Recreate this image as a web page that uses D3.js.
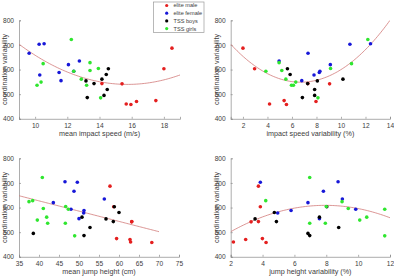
<!DOCTYPE html>
<html>
<head>
<meta charset="utf-8">
<script src="https://cdn.jsdelivr.net/npm/d3@7"></script>
<style>
  body { margin: 0; background: #fff; }
  svg { display: block; font-family: "Liberation Sans", Arial, sans-serif; }
</style>
</head>
<body>
<div id="chart"></div>
<script>
// coordination variability per athlete, with the four x measures in matching order
const groups = ['elite male', 'elite female', 'TSS boys', 'TSS girls'];
const groupColors = ['#e41f1f', '#1717d8', '#000000', '#2fe62f'];

const maleCoord     = [687, 603, 542, 543, 460, 458, 470, 474];
const maleSpeed     = [18.5, 18.0, 15.4, 14.15, 15.66, 15.95, 16.3, 17.5];
const maleSpeedVar  = [2.0, 2.95, 9.07, 7.3, 4.17, 5.55, 7.96, 5.36];
const maleJump      = [57.75, 58.67, 63.17, 63.2, 62.9, 68.2, 62.75, 59.4];
const maleJumpVar   = [3.74, 3.86, 3.28, 3.74, 2.17, 4.22, 2.94, 3.99];

const femaleCoord    = [666, 703, 705, 578, 588, 555, 620, 635, 593];
const femaleSpeed    = [9.63, 10.25, 10.56, 10.29, 11.49, 11.61, 12.07, 12.75, 12.4];
const femaleSpeedVar = [7.31, 10.73, 12.41, 7.8, 8.23, 6.8, 9.13, 4.95, 8.28];
const femaleJump     = [48.75, 49.58, 46.5, 51.17, 51.25, 50.0, 43.58, 56.33, 48.0];
const femaleJumpVar  = [7.82, 3.86, 8.74, 4.95, 5.79, 7.57, 6.85, 9.01, 9.85];

const boysCoord    = [554, 543, 561, 580, 603, 519, 486, 495];
const boysSpeed    = [13.16, 13.66, 14.15, 14.42, 14.55, 14.48, 13.24, 14.28];
const boysSpeedVar = [8.07, 7.28, 10.16, 5.85, 5.63, 7.85, 6.85, 7.85];
const boysJump     = [56.75, 58.58, 50.75, 60.0, 58.83, 52.75, 51.25, 38.58];
const boysJumpVar  = [3.53, 4.87, 7.57, 4.74, 8.03, 8.78, 6.96, 6.85];

const girlsCoord    = [722, 624, 536, 549, 593, 561, 536, 628, 596, 604, 485];
const girlsSpeed    = [12.25, 10.5, 10.12, 10.37, 12.4, 12.87, 13.2, 13.41, 13.41, 13.93, 14.07];
const girlsSpeedVar = [12.19, 10.86, 5.96, 6.31, 3.87, 5.5, 6.12, 4.95, 5.17, 9.15, 8.12];
const girlsJump     = [40.83, 37.5, 42.17, 39.58, 47.33, 41.92, 46.58, 38.42, 41.08, 46.67, 48.92];
const girlsJumpVar  = [6.96, 8.99, 6.96, 10.1, 11.67, 10.54, 7.94, 4.2, 9.38, 8.0, 11.67];

// trend line coefficients [c0, c1, c2]
const speedFit    = [1430.4, -113.19, 3.596];
const speedVarFit = [761.8, -63.53, 4.733];
const jumpFit     = [794.0, -4.171, 0];
const jumpVarFit  = [417.6, 48.26, -3.043];

const yTicks = [400, 500, 600, 700, 800];

const coords = [maleCoord, femaleCoord, boysCoord, girlsCoord];

const panels = [
    { xs: [maleSpeed, femaleSpeed, boysSpeed, girlsSpeed], domain: [9, 19], ticks: [10, 12, 14, 16, 18],
      fit: speedFit, fitRange: [9, 19], title: 'mean impact speed (m/s)', left: 19, top: 20.3, width: 161 },
    { xs: [maleSpeedVar, femaleSpeedVar, boysSpeedVar, girlsSpeedVar], domain: [1, 14], ticks: [2, 4, 6, 8, 10, 12, 14],
      fit: speedVarFit, fitRange: [1, 14], title: 'impact speed variability (%)', left: 230.7, top: 20.3, width: 159.3 },
    { xs: [maleJump, femaleJump, boysJump, girlsJump], domain: [35, 75], ticks: [35, 40, 45, 50, 55, 60, 65, 70, 75],
      fit: jumpFit, fitRange: [35, 70], title: 'mean jump height (cm)', left: 19, top: 158.3, width: 160 },
    { xs: [maleJumpVar, femaleJumpVar, boysJumpVar, girlsJumpVar], domain: [2, 12], ticks: [2, 4, 6, 8, 10, 12],
      fit: jumpVarFit, fitRange: [2, 12], title: 'jump height variability (%)', left: 230.7, top: 158.3, width: 159.3 }
];

const W = 394, H = 277, plotH = 98.5;
const axisColor = '#8a8a8a', textColor = '#3c3c3c', fitColor = '#d27a78';

const svg = d3.select('#chart').append('svg')
    .attr('width', W)
    .attr('height', H);

panels.forEach((p, pi) => {
    const x = d3.scaleLinear().domain(p.domain).range([0, p.width]),
        y = d3.scaleLinear().domain([400, 800]).range([plotH, 0]);

    const g = svg.append('g').attr('transform', `translate(${p.left},${p.top})`);

    g.append('defs').append('clipPath')
        .attr('id', 'clip' + pi)
        .append('rect')
        .attr('width', p.width)
        .attr('height', plotH);

    // axes, ticks inside like the original
    const xAxis = g.append('g')
        .attr('transform', `translate(0,${plotH})`)
        .call(d3.axisBottom(x).tickValues(p.ticks).tickSize(-2).tickPadding(5));
    const yAxis = g.append('g')
        .call(d3.axisLeft(y).tickValues(yTicks).tickSize(-2).tickPadding(5));

    [xAxis, yAxis].forEach(a => {
        a.select('.domain').attr('stroke', axisColor).attr('stroke-width', 0.7);
        a.selectAll('.tick line').attr('stroke', axisColor).attr('stroke-width', 0.7);
        a.selectAll('.tick text').attr('fill', textColor).style('font-size', '6.6px');
    });

    g.append('text')
        .attr('x', p.width / 2)
        .attr('y', plotH + 17)
        .attr('text-anchor', 'middle')
        .attr('fill', textColor)
        .style('font-size', '7.2px')
        .text(p.title);

    g.append('text')
        .attr('transform', `translate(-12.2,${plotH / 2}) rotate(-90)`)
        .attr('text-anchor', 'middle')
        .attr('fill', textColor)
        .style('font-size', '7.2px')
        .text('coordination variability');

    // trend line
    const fitY = v => p.fit[0] + p.fit[1] * v + p.fit[2] * v * v;
    const line = d3.line().x(d => x(d)).y(d => y(fitY(d)));
    const samples = d3.range(0, 101).map(i => p.fitRange[0] + (p.fitRange[1] - p.fitRange[0]) * i / 100);

    g.append('path')
        .datum(samples)
        .attr('clip-path', `url(#clip${pi})`)
        .attr('fill', 'none')
        .attr('stroke', fitColor)
        .attr('stroke-width', 0.8)
        .attr('d', line);

    p.xs.forEach((xs, gi) => {
        g.append('g')
            .attr('fill', groupColors[gi])
            .selectAll('circle')
            .data(xs.map((v, i) => [v, coords[gi][i]]))
            .join('circle')
            .attr('cx', d => x(d[0]))
            .attr('cy', d => y(d[1]))
            .attr('r', 1.8);
    });
});

// legend
const legend = svg.append('g').attr('transform', 'translate(153.5,2)');
legend.append('rect')
    .attr('width', 50.5)
    .attr('height', 30.5)
    .attr('fill', '#fff')
    .attr('stroke', '#9a9a9a')
    .attr('stroke-width', 0.7);

legend.selectAll('g')
    .data(groups)
    .join('g')
    .attr('transform', (d, i) => `translate(0,${3.5 + i * 7.7})`)
    .call(g => g.append('circle')
        .attr('cx', 13.2)
        .attr('r', 1.6)
        .attr('fill', (d, i) => groupColors[i]))
    .call(g => g.append('text')
        .attr('x', 20)
        .attr('dy', '0.35em')
        .attr('fill', textColor)
        .style('font-size', '5.6px')
        .text(d => d));
</script>
</body>
</html>
